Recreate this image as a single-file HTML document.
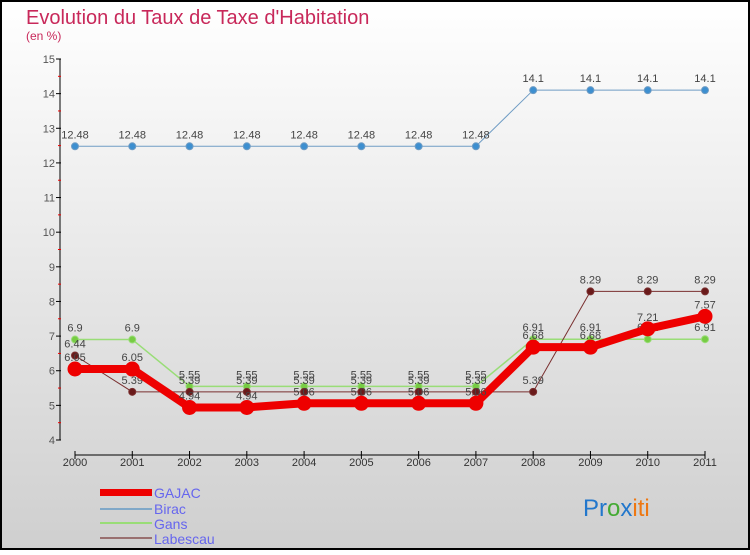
<!DOCTYPE html>
<html><head><meta charset="utf-8"><style>
body{margin:0;width:750px;height:550px;overflow:hidden;font-family:"Liberation Sans",sans-serif}
</style></head><body>
<svg id="c" width="750" height="550" xmlns="http://www.w3.org/2000/svg">
<defs><linearGradient id="bg" x1="0" y1="0" x2="0" y2="1"><stop offset="0" stop-color="#ffffff"/><stop offset="1" stop-color="#cfcfcf"/></linearGradient></defs>
<rect x="1" y="1" width="748" height="548" fill="url(#bg)" stroke="#000" stroke-width="2"/>
<text x="26" y="24" font-size="20" fill="#c8285a">Evolution du Taux de Taxe d'Habitation</text>
<text x="26" y="40" font-size="12" fill="#c8285a">(en %)</text>
<g id="axes"></g><g id="series"></g>
<g>
<rect x="100" y="489" width="52" height="7" fill="#ee0000"/>
<text x="154" y="498" font-size="14" fill="#6666ee">GAJAC</text>
<rect x="100" y="508" width="52" height="2" fill="#80a8c8"/>
<text x="154" y="514" font-size="14" fill="#6666ee">Birac</text>
<rect x="100" y="522" width="52" height="2" fill="#99dd77"/>
<text x="154" y="529" font-size="14" fill="#6666ee">Gans</text>
<rect x="100" y="537" width="52" height="2" fill="#997070"/>
<text x="154" y="544" font-size="14" fill="#6666ee">Labescau</text>
</g>
<text x="583" y="516" font-size="24"><tspan fill="#2277cc">Pr</tspan><tspan fill="#44aa33">o</tspan><tspan fill="#2277cc">x</tspan><tspan fill="#ee7711">iti</tspan></text>
</svg>
<script>
const years=[2000,2001,2002,2003,2004,2005,2006,2007,2008,2009,2010,2011];
const yTicks=[4,5,6,7,8,9,10,11,12,13,14,15];
const gajac=[6.05,6.05,4.94,4.94,5.06,5.06,5.06,5.06,6.68,6.68,7.21,7.57];
const birac=[12.48,12.48,12.48,12.48,12.48,12.48,12.48,12.48,14.1,14.1,14.1,14.1];
const gans=[6.9,6.9,5.55,5.55,5.55,5.55,5.55,5.55,6.91,6.91,6.91,6.91];
const labescau=[6.44,5.39,5.39,5.39,5.39,5.39,5.39,5.39,5.39,8.29,8.29,8.29];
const NS="http://www.w3.org/2000/svg";
const X=i=>75+i*(630/11), Y=v=>440-(v-4)*(381/11);
function mk(t,a,p){const e=document.createElementNS(NS,t);for(const k in a)e.setAttribute(k,a[k]);p.appendChild(e);return e;}
const ax=document.getElementById('axes');
const yl=mk('line',{x1:60,y1:59,x2:60,y2:440,stroke:'#000'},ax);


const xl=mk('line',{x1:75,y1:455,x2:705,y2:455,stroke:'#000'},ax);


yTicks.forEach((v,i)=>{
 mk('line',{x1:56,y1:Y(v),x2:61,y2:Y(v),stroke:'#000'},ax);
 if(i<yTicks.length-1) mk('line',{x1:58,y1:Y(v+0.5),x2:61,y2:Y(v+0.5),stroke:'#e00'},ax);
 const t=mk('text',{x:55,y:Y(v)+4,'font-size':11,'text-anchor':'end',fill:'#555'},ax);t.textContent=v;
 
 
});
years.forEach((y,i)=>{
 mk('line',{x1:X(i),y1:451,x2:X(i),y2:459,stroke:'#000'},ax);
 const t=mk('text',{x:X(i),y:466,'font-size':11,'text-anchor':'middle',fill:'#333'},ax);t.textContent=y;
 
 
});
const sg=document.getElementById('series');
function draw(name,data,col,w,r,dot){
 const g=mk('g',{},sg);
 
 
 mk('polyline',{points:data.map((v,i)=>X(i)+','+Y(v)).join(' '),fill:'none',stroke:col,'stroke-width':w,'stroke-linejoin':'round'},g);
 data.forEach((v,i)=>{
  const c=mk('circle',{cx:X(i),cy:Y(v),r:r,fill:dot,stroke:col,'stroke-width':1},g);
  
  
  const t=mk('text',{x:X(i),y:Y(v)-8,'font-size':11,'text-anchor':'middle',fill:'#444'},g);t.textContent=v;
 });
}
draw('birac',birac,'#6f9cc4',1,3.5,'#3d8fd0');
draw('gans',gans,'#99dd77',1.5,3.5,'#77cc44');
draw('labescau',labescau,'#7a3030',1,3.5,'#6a1a1a');
draw('gajac',gajac,'#ee0000',8,7,'#ee0000');
</script>
</body></html>
